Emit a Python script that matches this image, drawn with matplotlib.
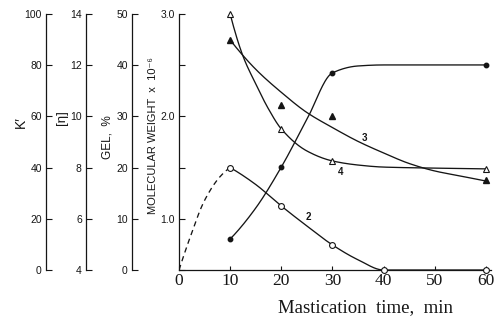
import numpy as np
import matplotlib.pyplot as plt
from matplotlib.ticker import FixedLocator

# curve 1: K' against mastication time (filled circles)
k_t = [10, 20, 30, 60]
k_val = [12.1, 40.2, 77.0, 80.1]
k_line_t = [10, 15, 20, 25, 30, 35, 40, 60]
k_line = [12.1, 24.2, 40.2, 58.8, 77.0, 79.7, 80.1, 80.1]

# curve 2: gel content, % (open circles); dashed part is the extrapolation to zero
gel_t = [10, 20, 30, 40, 60]
gel_val = [20.0, 12.5, 4.9, 0.0, 0.0]
gel_dash_t = [0, 2, 5, 8, 10]
gel_dash = [0.0, 5.9, 13.6, 18.2, 20.0]
gel_line_t = [10, 15, 20, 25, 30, 35, 40, 60]
gel_line = [20.0, 16.7, 12.5, 8.6, 4.9, 2.0, 0.0, 0.0]

# curve 3: molecular weight x 10^-6 (filled triangles)
mw_t = [10, 20, 30, 60]
mw_val = [2.75, 2.11, 2.00, 1.38]
mw_line_t = [10, 15, 20, 25, 30, 35, 40, 45, 50, 55, 60]
mw_line = [2.746, 2.46, 2.235, 2.038, 1.891, 1.756, 1.643, 1.54, 1.467, 1.418, 1.369]

# curve 4: intrinsic viscosity [eta] (open triangles)
eta_t = [10, 20, 30, 60]
eta_val = [14.0, 9.51, 8.26, 7.95]
eta_line_t = [10, 12.5, 15, 17.5, 20, 25, 30, 35, 40, 50, 60]
eta_line = [14.0, 12.36, 11.27, 10.29, 9.51, 8.65, 8.26, 8.1, 8.02, 7.98, 7.95]

x_ticks = [0, 10, 20, 30, 40, 50, 60]


def pchip(x, y, xs):
    # monotone cubic through the given nodes, so the curves don't overshoot
    x = np.asarray(x, float)
    y = np.asarray(y, float)
    h = np.diff(x)
    d = np.diff(y) / h
    n = len(x)
    m = np.zeros(n)
    for k in range(1, n - 1):
        if d[k - 1] * d[k] > 0:
            w1 = 2 * h[k] + h[k - 1]
            w2 = h[k] + 2 * h[k - 1]
            m[k] = (w1 + w2) / (w1 / d[k - 1] + w2 / d[k])
    for k, (i, j) in ((0, (0, 1)), (n - 1, (n - 2, n - 3))):
        if n > 2:
            mk = ((2 * h[i] + h[j]) * d[i] - h[i] * d[j]) / (h[i] + h[j])
            if np.sign(mk) != np.sign(d[i]):
                mk = 0.0
            elif np.sign(d[i]) != np.sign(d[j]) and abs(mk) > abs(3 * d[i]):
                mk = 3 * d[i]
        else:
            mk = d[0]
        m[k] = mk
    xs = np.asarray(xs, float)
    idx = np.clip(np.searchsorted(x, xs) - 1, 0, n - 2)
    t = (xs - x[idx]) / h[idx]
    h00 = 2 * t**3 - 3 * t**2 + 1
    h10 = t**3 - 2 * t**2 + t
    h01 = -2 * t**3 + 3 * t**2
    h11 = t**3 - t**2
    return (h00 * y[idx] + h10 * h[idx] * m[idx]
            + h01 * y[idx + 1] + h11 * h[idx] * m[idx + 1])


def smooth(tx, vals):
    xs = np.linspace(tx[0], tx[-1], 300)
    return xs, pchip(tx, vals, xs)


plt.rcParams['font.family'] = ['Liberation Sans', 'DejaVu Sans']
ink = '#151515'
W, H = 497, 322
fig = plt.figure(figsize=(W / 100, H / 100), dpi=100)
rect = [179 / W, 52 / H, 312 / W, 256 / H]

ax = fig.add_axes(rect)
ax.set_xlim(0, 61)
ax.set_ylim(0.5, 3.0)
for s in ('top', 'right'):
    ax.spines[s].set_visible(False)
for s in ('left', 'bottom'):
    ax.spines[s].set_linewidth(0.9)
    ax.spines[s].set_color(ink)
ax.set_xticks(x_ticks)
ax.set_xticklabels([str(v) for v in x_ticks], family='Liberation Serif', fontsize=12.5)
ax.set_yticks([1.0, 2.0, 3.0])
ax.set_yticklabels(['1.0', '2.0', '3.0'], fontsize=7.5)
ax.yaxis.set_minor_locator(FixedLocator([0.5, 1.5, 2.5]))
ax.tick_params(axis='y', which='both', direction='in', length=4, width=0.8, pad=3, colors=ink)
ax.tick_params(axis='x', direction='in', length=3, width=0.8, pad=2, colors=ink)
fig.text(366 / W, 1 - 308 / H, 'Mastication  time,  min', family='Liberation Serif',
         fontsize=13.5, ha='center', va='center', color=ink)


def side_axis(offset_px, lo, hi, ticks, labels):
    a = fig.add_axes(rect, facecolor='none')
    a.set_xlim(0, 61)
    a.set_ylim(lo, hi)
    for s in ('top', 'right', 'bottom'):
        a.spines[s].set_visible(False)
    a.spines['left'].set_position(('outward', offset_px * 0.72))
    a.spines['left'].set_linewidth(0.9)
    a.spines['left'].set_color(ink)
    a.xaxis.set_visible(False)
    a.set_yticks(ticks)
    a.set_yticklabels(labels, fontsize=7.5)
    a.tick_params(axis='y', direction='in', length=4, width=0.8, pad=3, colors=ink)
    return a


ax_k = side_axis(133, 0, 100, [0, 20, 40, 60, 80, 100], ['0', '20', '40', '60', '80', '100'])
ax_eta = side_axis(93, 4, 14, [4, 6, 8, 10, 12, 14], ['4', '6', '8', '10', '12', '14'])
ax_gel = side_axis(47, 0, 50, [0, 10, 20, 30, 40, 50], ['0', '10', '20', '30', '40', '50'])

lw = 0.95
# curve 1
xs, ys = smooth(k_line_t, k_line)
ax_k.plot(xs, ys, color=ink, lw=lw)
ax_k.plot(k_t, k_val, 'o', color=ink, ms=3.2, clip_on=False)
# curve 2
xs, ys = smooth(gel_dash_t, gel_dash)
ax_gel.plot(xs, ys, color=ink, lw=lw, ls=(0, (4, 3)))
xs, ys = smooth(gel_line_t, gel_line)
ax_gel.plot(xs, ys, color=ink, lw=lw)
ax_gel.plot(gel_t, gel_val, 'o', mfc='white', mec=ink, mew=0.8, ms=4.2, clip_on=False)
# curve 3
xs, ys = smooth(mw_line_t, mw_line)
ax.plot(xs, ys, color=ink, lw=lw)
ax.plot(mw_t, mw_val, '^', color=ink, ms=4.2, clip_on=False)
# curve 4
xs, ys = smooth(eta_line_t, eta_line)
ax_eta.plot(xs, ys, color=ink, lw=lw)
ax_eta.plot(eta_t, eta_val, '^', mfc='white', mec=ink, mew=0.8, ms=5, clip_on=False)

# curve numbers
ax.text(25.3, 1.02, '2', fontsize=7, fontweight='bold', ha='center', va='center', color=ink)
ax.text(36.3, 1.79, '3', fontsize=7, fontweight='bold', ha='center', va='center', color=ink)
ax.text(31.6, 1.46, '4', fontsize=7, fontweight='bold', ha='center', va='center', color=ink)


# axis titles for the stacked scales
def ytitle(xp, yp, s, size):
    fig.text(xp / W, 1 - yp / H, s, rotation=90, ha='center', va='center',
             fontsize=size, color=ink)


ytitle(21, 122, "K\u2032", 10)
ytitle(62, 118, '[η]', 9.5)
ytitle(107, 137, 'GEL,  %', 8.5)
ytitle(153, 136, 'MOLECULAR WEIGHT  x  10⁻⁶', 8)

fig.savefig('out.png', dpi=100)
